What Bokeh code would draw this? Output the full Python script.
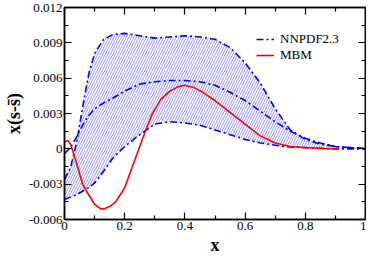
from bokeh.plotting import figure
from bokeh.models import (LinearAxis, FixedTicker, CustomJSTickFormatter, Range1d,
                          Legend, LegendItem)
from bokeh.embed import file_html
from bokeh.resources import INLINE

# NNPDF2.3 band (upper / central / lower) sampled at common x
x_nn = [0.0, 0.02, 0.04, 0.06, 0.08, 0.10, 0.13, 0.16, 0.20, 0.25, 0.30, 0.35, 0.40,
        0.45, 0.50, 0.55, 0.60, 0.65, 0.70, 0.75, 0.80, 0.85, 0.90, 0.95, 1.0]
nn_upper = [-0.0026, -0.0016, 0.0005, 0.0035, 0.0063, 0.0081, 0.0093, 0.0097, 0.0098,
            0.0096, 0.0094, 0.0095, 0.0096, 0.0095, 0.0093, 0.0086, 0.0073, 0.0056,
            0.0034, 0.0016, 0.0008, 0.0004, 0.0002, 0.0001, 0.00005]
nn_central = [-0.0004, 0.0001, 0.0010, 0.0020, 0.0028, 0.0034, 0.0039, 0.0043, 0.0049,
              0.0055, 0.0057, 0.0058, 0.0058, 0.0057, 0.0054, 0.0048, 0.0041, 0.0032,
              0.0023, 0.0015, 0.0009, 0.0005, 0.0002, 0.0001, 0.0]
nn_lower = [-0.0043, -0.0041, -0.0039, -0.0036, -0.0033, -0.0029, -0.0019, -0.0008,
            0.0002, 0.0012, 0.0021, 0.0023, 0.0022, 0.0020, 0.0016, 0.0012, 0.0008,
            0.0005, 0.0003, 0.00015, 0.0001, 0.00005, 0.0, 0.0, 0.0]

# MBM curve
x_mbm = [0.003, 0.012, 0.02, 0.03, 0.04, 0.06, 0.08, 0.10, 0.12, 0.13, 0.15, 0.17,
         0.20, 0.23, 0.26, 0.29, 0.32, 0.35, 0.38, 0.40, 0.43, 0.46, 0.50, 0.55,
         0.60, 0.65, 0.70, 0.75, 0.80, 0.85, 0.91]
y_mbm = [0.0006, 0.0007, 0.0004, -0.0004, -0.0012, -0.0030, -0.0039, -0.0047, -0.0051,
         -0.0051, -0.0049, -0.0045, -0.0033, -0.0012, 0.0009, 0.0029, 0.0042, 0.0049,
         0.0053, 0.0054, 0.0052, 0.0048, 0.0041, 0.0031, 0.0021, 0.0011, 0.0005,
         0.0002, 0.0001, 0.00003, 0.0]

x_ticks = [0.0, 0.2, 0.4, 0.6, 0.8, 1.0]
x_minor = [0.1, 0.3, 0.5, 0.7, 0.9]
y_ticks = [-0.006, -0.003, 0.0, 0.003, 0.006, 0.009, 0.012]
y_minor = [-0.0045, -0.0015, 0.0015, 0.0045, 0.0075, 0.0105]

FONT = "Liberation Serif"
BLUE = "#0000ff"
RED = "#ff0000"
DASH = "7 3 2 3"

p = figure(width=366, height=257, x_range=Range1d(0, 1), y_range=Range1d(-0.006, 0.012),
           output_backend="svg", toolbar_location=None,
           min_border_left=1, min_border_right=1, min_border_top=7, min_border_bottom=0)
p.xgrid.visible = False
p.ygrid.visible = False
p.outline_line_color = "black"
p.outline_line_width = 1.5
p.background_fill_color = "white"
p.border_fill_color = "white"

# band
p.varea(x=x_nn, y1=nn_lower, y2=nn_upper, fill_alpha=0.0,
        hatch_pattern="/", hatch_color=BLUE, hatch_alpha=0.4,
        hatch_weight=1, hatch_scale=5)
r_up = p.line(x_nn, nn_upper, line_color=BLUE, line_width=1.6, line_dash=DASH)
p.line(x_nn, nn_central, line_color=BLUE, line_width=1.6, line_dash=DASH)
p.line(x_nn, nn_lower, line_color=BLUE, line_width=1.6, line_dash=DASH)
r_mbm = p.line(x_mbm, y_mbm, line_color=RED, line_width=1.6)

xfmt = CustomJSTickFormatter(code="""
if (Math.abs(tick - Math.round(tick)) < 1e-9) { return String(Math.round(tick)); }
return tick.toFixed(1);
""")
yfmt = CustomJSTickFormatter(code="""
if (Math.abs(tick) < 1e-9) { return "0"; }
return tick.toFixed(3);
""")
nofmt = CustomJSTickFormatter(code='return "";')

xt = FixedTicker(ticks=x_ticks, minor_ticks=x_minor)
yt = FixedTicker(ticks=y_ticks, minor_ticks=y_minor)

xb = p.xaxis[0]
yl = p.yaxis[0]
xb.ticker = xt
yl.ticker = yt
xb.formatter = xfmt
yl.formatter = yfmt
xb.axis_label = "x"
yl.axis_label = "x(s-s\u0304)"

right = LinearAxis(ticker=yt, formatter=nofmt)
above = LinearAxis(ticker=xt, formatter=nofmt)
p.add_layout(right, "right")
p.add_layout(above, "above")

for ax in [xb, yl, right, above]:
    ax.axis_line_color = "black"
    ax.axis_line_width = 1.5
    ax.major_tick_in = 7
    ax.major_tick_out = 0
    ax.minor_tick_in = 4
    ax.minor_tick_out = 0
    ax.major_tick_line_color = "black"
    ax.minor_tick_line_color = "black"
    ax.major_tick_line_width = 1.2
    ax.minor_tick_line_width = 1.2
    ax.major_label_text_font = FONT
    ax.major_label_text_color = "black"
    ax.major_label_text_font_size = "13px"
    ax.axis_label_text_font = FONT
    ax.axis_label_text_font_style = "bold"
    ax.axis_label_text_color = "black"
    ax.axis_label_text_font_size = "18px"

xb.major_label_standoff = 2
xb.axis_label_standoff = 2
yl.major_label_standoff = 2
yl.axis_label_standoff = 2
right.major_label_standoff = 0
above.major_label_standoff = 0

legend = Legend(items=[LegendItem(label="NNPDF2.3", renderers=[r_up]),
                       LegendItem(label="MBM", renderers=[r_mbm])],
                location=(192, 156))
legend.border_line_color = None
legend.background_fill_alpha = 0.0
legend.label_text_font = FONT
legend.label_text_font_size = "13px"
legend.label_text_color = "black"
legend.glyph_width = 18
legend.glyph_height = 12
legend.label_height = 12
legend.spacing = 0
legend.padding = 4
legend.margin = 0
legend.label_standoff = 6
p.add_layout(legend)

open("out.html", "w").write(file_html(p, INLINE))
